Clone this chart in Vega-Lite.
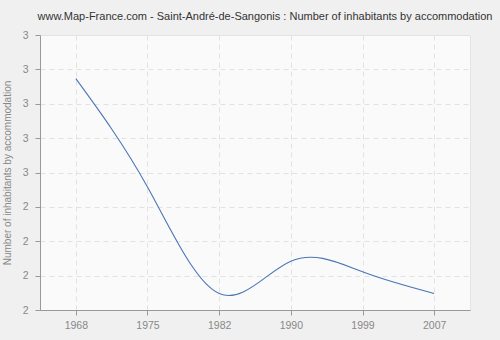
{
  "$schema": "https://vega.github.io/schema/vega-lite/v6.json",
  "autosize": "none",
  "width": 430,
  "height": 275,
  "padding": {"left": 40, "top": 35, "right": 30, "bottom": 30},
  "background": "#f0f0f0",
  "title": {
    "text": "www.Map-France.com - Saint-André-de-Sangonis : Number of inhabitants by accommodation",
    "font": "Liberation Sans",
    "fontSize": 11,
    "fontWeight": "normal",
    "color": "#333333",
    "anchor": "middle",
    "dx": 10,
    "offset": 8
  },
  "config": {
    "view": {"fill": "#fafafa", "stroke": "#e4e4e4"},
    "axis": {
      "labelFont": "Liberation Sans",
      "labelFontSize": 10.5,
      "labelColor": "#888888",
      "titleFont": "Liberation Sans",
      "titleFontSize": 10,
      "titleFontWeight": "normal",
      "titleColor": "#888888",
      "domainColor": "#999999",
      "tickColor": "#999999",
      "gridColor": "#e2e2e2",
      "gridDash": [5, 4],
      "tickSize": 5
    }
  },
  "data": {
    "values": [
      {"year": "1968", "value": 2.773},
      {"year": "1975", "value": 2.458},
      {"year": "1982", "value": 2.148},
      {"year": "1990", "value": 2.242},
      {"year": "1999", "value": 2.211},
      {"year": "2007", "value": 2.148}
    ]
  },
  "mark": {"type": "line", "interpolate": "natural", "color": "#4a77b4", "strokeWidth": 1.1},
  "encoding": {
    "x": {
      "field": "year",
      "type": "ordinal",
      "scale": {"type": "point", "padding": 0.5},
      "axis": {"title": null, "labelAngle": 0, "grid": true, "labelPadding": 5}
    },
    "y": {
      "field": "value",
      "type": "quantitative",
      "scale": {"domain": [2.1, 2.9], "nice": false, "zero": false},
      "axis": {
        "title": "Number of inhabitants by accommodation",
        "values": [2.1, 2.2, 2.3, 2.4, 2.5, 2.6, 2.7, 2.8, 2.9],
        "format": ".0f",
        "grid": true,
        "labelPadding": 7,
        "titlePadding": 10
      }
    }
  }
}
